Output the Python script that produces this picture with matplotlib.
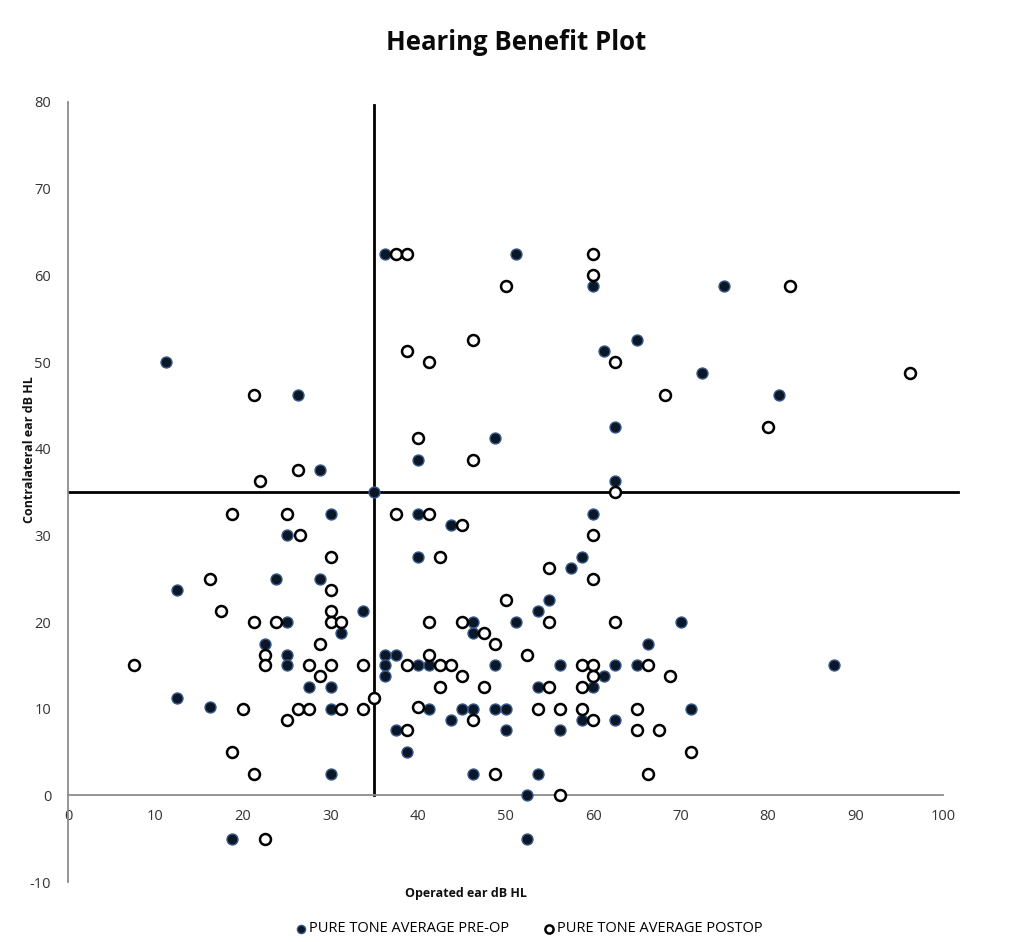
import matplotlib.pyplot as plt

plt.rcParams['font.family'] = ['Open Sans', 'DejaVu Sans']
plt.rcParams['axes.unicode_minus'] = False

# ---------------- data (dB HL) ----------------
pre_x = [11.25, 36.25, 51.25, 60, 65, 61.25, 75, 72.5, 81.25, 62.5, 62.5, 60,
         48.75, 40, 35, 40, 43.75, 26.25, 28.75, 30, 25, 12.5, 23.75, 28.75,
         33.75, 25, 31.25, 22.5, 25, 25, 36.25, 37.5, 36.25, 36.25, 27.5, 30,
         12.5, 16.25, 30, 30, 37.5, 18.75, 40, 57.5, 58.75, 55, 53.75, 46.25,
         51.25, 46.25, 70, 40, 41.25, 48.75, 56.25, 62.5, 65, 66.25, 87.5,
         61.25, 53.75, 60, 41.25, 45, 46.25, 48.75, 50, 43.75, 58.75, 62.5,
         71.25, 50, 56.25, 38.75, 46.25, 53.75, 52.5, 52.5]
pre_y = [50, 62.5, 62.5, 58.75, 52.5, 51.25, 58.75, 48.75, 46.25, 42.5, 36.25, 32.5,
         41.25, 38.75, 35, 32.5, 31.25, 46.25, 37.5, 32.5, 30, 23.75, 25, 25,
         21.25, 20, 18.75, 17.5, 16.25, 15, 16.25, 16.25, 15, 13.75, 12.5, 12.5,
         11.25, 10.25, 10, 2.5, 7.5, -5, 27.5, 26.25, 27.5, 22.5, 21.25, 20,
         20, 18.75, 20, 15, 15, 15, 15, 15, 15, 17.5, 15,
         13.75, 12.5, 12.5, 10, 10, 10, 10, 10, 8.75, 8.75, 8.75,
         10, 7.5, 7.5, 5, 2.5, 2.5, 0, -5]

post_x = [37.5, 38.75, 60, 60, 50, 82.5, 46.25, 38.75, 41.25, 62.5, 68.25, 96.25,
          80, 40, 46.25, 62.5, 37.5, 41.25, 45, 60, 21.25, 26.25, 21.9, 18.75,
          25, 26.5, 30, 16.25, 30, 17.5, 30, 21.25, 23.75, 30, 31.25, 28.75,
          22.5, 22.5, 7.5, 27.5, 30, 33.75, 28.75, 35, 20, 26.25, 27.5, 31.25,
          33.75, 25, 18.75, 21.25, 22.5, 42.5, 55, 60, 50, 41.25, 45, 55, 62.5,
          47.5, 48.75, 41.25, 52.5, 38.75, 42.5, 43.75, 58.75, 60, 66.25, 60,
          68.75, 45, 42.5, 47.5, 55, 58.75, 40, 53.75, 56.25, 58.75, 65, 46.25,
          60, 38.75, 65, 67.5, 71.25, 48.75, 66.25, 56.25]
post_y = [62.5, 62.5, 62.5, 60, 58.75, 58.75, 52.5, 51.25, 50, 50, 46.25, 48.75,
          42.5, 41.25, 38.75, 35, 32.5, 32.5, 31.25, 30, 46.25, 37.5, 36.25, 32.5,
          32.5, 30, 27.5, 25, 23.75, 21.25, 21.25, 20, 20, 20, 20, 17.5,
          16.25, 15, 15, 15, 15, 15, 13.75, 11.25, 10, 10, 10, 10,
          10, 8.75, 5, 2.5, -5, 27.5, 26.25, 25, 22.5, 20, 20, 20, 20,
          18.75, 17.5, 16.25, 16.25, 15, 15, 15, 15, 15, 15, 13.75,
          13.75, 13.75, 12.5, 12.5, 12.5, 12.5, 10.25, 10, 10, 10, 10, 8.75,
          8.75, 7.5, 7.5, 7.5, 5, 2.5, 2.5, 0]

x_ticks = [0, 10, 20, 30, 40, 50, 60, 70, 80, 90, 100]
y_ticks = [-10, 0, 10, 20, 30, 40, 50, 60, 70, 80]
cut = 35   # quadrant lines

# ---------------- figure ----------------
W, H = 1010, 942
fig = plt.figure(figsize=(W/100, H/100), dpi=100)
ax = fig.add_axes([68/W, 1 - 882/H, 892.5/W, 780/H])
ax.set_xlim(0, 102)
ax.set_ylim(-10, 80)

ax.plot([cut, cut], [0, 79.6], color='black', lw=2, zorder=2)
ax.plot([0, 101.7], [cut, cut], color='black', lw=2, zorder=2)

pre = ax.scatter(pre_x, pre_y, s=62, marker='o', facecolor='#0b1626',
                 edgecolor='#35598a', linewidth=1.0, zorder=3,
                 label='PURE TONE AVERAGE PRE-OP')
post = ax.scatter(post_x, post_y, s=62, marker='o', facecolor='white',
                  edgecolor='black', linewidth=1.8, zorder=4,
                  label='PURE TONE AVERAGE POSTOP')

for s in ['top', 'right']:
    ax.spines[s].set_visible(False)
ax.spines['bottom'].set_position(('data', 0))
ax.spines['bottom'].set_bounds(0, 100)
ax.spines['left'].set_bounds(-10, 80)
for s in ['bottom', 'left']:
    ax.spines[s].set_color('#8c8c8c')
    ax.spines[s].set_linewidth(1.3)

ax.set_xticks(x_ticks)
ax.set_yticks(y_ticks)
ax.tick_params(axis='both', length=0, labelsize=10.5, colors='#333333')
ax.tick_params(axis='x', pad=10)
ax.tick_params(axis='y', pad=12)

fig.text(516/W, 1 - 42/H, 'Hearing Benefit Plot', ha='center', va='center',
         fontsize=18.5, fontweight='bold', color='#0a0a0a')
fig.text(466/W, 1 - 893/H, 'Operated ear dB HL', ha='center', va='center',
         fontsize=9, fontweight='bold', color='#111111')
fig.text(30/W, 1 - 450/H, 'Contralateral ear dB HL', ha='center', va='center',
         rotation=90, fontsize=9, fontweight='bold', color='#111111')

fig.legend(handles=[pre, post], loc='center', ncol=2,
           bbox_to_anchor=(528/W, 1 - 929/H), frameon=False,
           fontsize=10.5, handletextpad=0.05, columnspacing=2.2,
           handlelength=1, markerscale=0.75, borderpad=0.1)

fig.savefig('out.png', dpi=100, facecolor='white')
